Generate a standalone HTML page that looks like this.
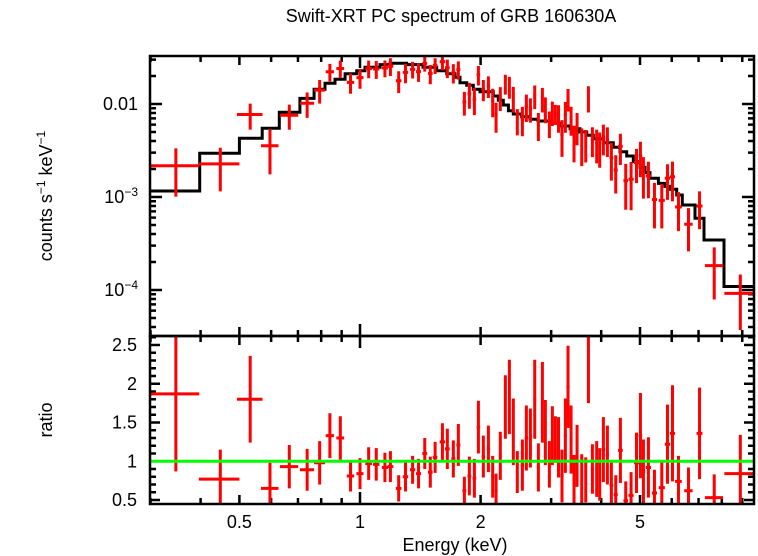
<!DOCTYPE html>
<html><head><meta charset="utf-8"><style>
html,body{margin:0;padding:0;background:#fff}
svg{display:block;font-family:"Liberation Sans",Arial,sans-serif}
</style></head><body>
<svg id="chart" width="758" height="556" viewBox="0 0 758 556" xmlns="http://www.w3.org/2000/svg">
<defs>
<clipPath id="c1"><rect x="150" y="56" width="604" height="280"/></clipPath>
<clipPath id="c2"><rect x="150" y="336" width="604" height="168"/></clipPath>
</defs>
<text x="451" y="22" font-size="18" text-anchor="middle">Swift-XRT PC spectrum of GRB 160630A</text>
<text transform="translate(52,196) rotate(-90)" font-size="18" text-anchor="middle">counts s<tspan font-size="12" dy="-7">−1</tspan><tspan dy="7"> keV</tspan><tspan font-size="12" dy="-7">−1</tspan></text>
<text transform="translate(52,420) rotate(-90)" font-size="18" text-anchor="middle">ratio</text>
<text x="455" y="551" font-size="18" text-anchor="middle">Energy (keV)</text>
<g id="ticks"></g>
<g id="model" clip-path="url(#c1)"></g>
<g id="data1" clip-path="url(#c1)"></g>
<g id="data2" clip-path="url(#c2)"></g>
<line x1="150" x2="754" y1="461.25" y2="461.25" stroke="#00ff00" stroke-width="3"/>
<rect x="150" y="56" width="604" height="280" fill="none" stroke="#000" stroke-width="2.5"/>
<rect x="150" y="336" width="604" height="168" fill="none" stroke="#000" stroke-width="2.5"/>
</svg>
<script>
const modelEdges=[0.3,0.398,0.5,0.57,0.629,0.708,0.768,0.818,0.866,0.918,0.981,1.029,1.122,1.188,1.308,1.436,1.554,1.646,1.726,1.777,1.846,1.918,1.993,2.152,2.214,2.279,2.346,2.414,2.533,2.657,2.782,2.981,3.157,3.345,3.542,3.681,3.823,4.05,4.289,4.457,4.632,4.811,5.0,5.146,5.297,5.556,5.772,5.94,6.174,6.375,6.86,7.224,8.102,9.627];
const modelVals=[1.16e-3,2.95e-3,4.28e-3,5.48e-3,8.14e-3,0.0115,0.0144,0.0167,0.0185,0.0211,0.0228,0.0248,0.0265,0.0274,0.0265,0.0248,0.0228,0.0211,0.0194,0.0169,0.0159,0.0144,0.01357,0.0122,0.0110,0.00976,0.00848,0.00781,0.00731,0.00684,0.00656,0.0062,0.0058,0.00543,0.005,0.00461,0.00424,0.00384,0.00342,0.00307,0.00276,0.0024,0.00209,0.00183,0.00159,0.0014,0.0013,0.00121,0.00105,8.2e-4,5.9e-4,3.45e-4,1.09e-4];
const energies=[0.347,0.448,0.532,0.596,0.666,0.738,0.793,0.841,0.893,0.947,1.0,1.051,1.098,1.154,1.191,1.249,1.299,1.353,1.40,1.451,1.498,1.54,1.606,1.652,1.71,1.76,1.822,1.875,1.93,1.975,2.032,2.092,2.144,2.186,2.24,2.306,2.36,2.414,2.47,2.543,2.602,2.663,2.73,2.788,2.853,2.902,2.97,3.021,3.074,3.13,3.193,3.256,3.306,3.364,3.422,3.482,3.577,3.66,3.717,3.803,3.898,3.966,4.051,4.145,4.241,4.349,4.467,4.606,4.75,4.90,5.012,5.099,5.248,5.433,5.667,5.855,6.026,6.237,6.607,7.04,7.66,8.9];
const energyHalfWidths=[0.05,0.052,0.039,0.03,0.035,0.03,0.025,0.02,0.02,0.02,0.02,0.02,0.02,0.02,0.02,0.02,0.02,0.02,0.02,0.02,0.02,0.02,0.025,0.022,0.02,0.02,0.02,0.02,0.02,0.02,0.02,0.02,0.02,0.02,0.02,0.02,0.02,0.02,0.02,0.025,0.025,0.025,0.025,0.025,0.025,0.025,0.025,0.025,0.025,0.025,0.03,0.03,0.03,0.03,0.03,0.03,0.03,0.03,0.03,0.035,0.035,0.035,0.04,0.04,0.045,0.05,0.06,0.06,0.07,0.07,0.05,0.05,0.08,0.08,0.1,0.09,0.09,0.12,0.16,0.12,0.4,0.78];
const fluxVals=[2.17e-3,2.27e-3,7.7e-3,3.56e-3,7.57e-3,0.0102,0.0141,0.0222,0.0241,0.0171,0.0192,0.0241,0.0238,0.0244,0.0255,0.0178,0.0219,0.0236,0.0223,0.0273,0.0213,0.0260,0.0285,0.0245,0.0217,0.0235,0.0105,0.0129,0.0112,0.0207,0.0144,0.0157,0.0109,0.0076,0.0118,0.0166,0.0155,0.0117,0.0067,0.0069,0.0095,0.0089,0.0123,0.0060,0.0115,0.0090,0.0063,0.0082,0.0079,0.0073,0.0047,0.0077,0.0114,0.00695,0.0041,0.0058,0.0038,0.0038,0.0118,0.00415,0.0038,0.0035,0.0044,0.00415,0.00265,0.00195,0.0035,0.0015,0.00155,0.00235,0.00278,0.00182,0.00168,9.4e-4,9.2e-4,1.59e-3,1.65e-3,7.8e-4,5.1e-4,8.0e-4,1.83e-4,9.2e-5];
const fluxErrs=[1.16e-3,1.12e-3,2.4e-3,1.81e-3,2.28e-3,0.0031,0.0040,0.0048,0.0052,0.0042,0.0046,0.0052,0.0052,0.0050,0.0055,0.0047,0.0052,0.0048,0.0050,0.0050,0.0050,0.0050,0.0055,0.0055,0.0051,0.0052,0.0030,0.0040,0.0036,0.0049,0.0037,0.0041,0.0037,0.0027,0.0034,0.0040,0.0041,0.0036,0.0021,0.0024,0.0031,0.0026,0.0035,0.0020,0.0034,0.0028,0.0020,0.0024,0.0019,0.0024,0.0020,0.0028,0.0031,0.0024,0.00174,0.0022,0.00165,0.00145,0.0037,0.00147,0.0015,0.00144,0.0016,0.00146,0.00115,8.6e-4,1.29e-3,7.7e-4,8.3e-4,9.4e-4,1.15e-3,8.6e-4,7.1e-4,4.8e-4,4.6e-4,6.6e-4,7.5e-4,3.5e-4,2.5e-4,3.5e-4,1.04e-4,5.5e-5];
const ratioVals=[1.87,0.77,1.80,0.65,0.93,0.89,0.98,1.33,1.30,0.81,0.84,0.97,0.96,0.92,0.93,0.65,0.80,0.89,0.84,1.10,0.86,1.05,1.25,1.16,1.03,1.21,0.62,0.81,0.78,1.44,1.06,1.16,0.80,0.62,1.07,1.70,1.83,1.38,0.86,0.95,1.30,1.30,1.80,0.92,1.76,1.37,0.96,1.33,1.28,1.18,0.81,1.33,1.96,1.28,0.76,1.07,0.76,0.76,2.55,0.90,0.90,0.83,1.15,1.08,0.69,0.57,1.14,0.49,0.56,0.98,1.33,0.87,0.92,0.59,0.66,1.22,1.36,0.74,0.62,1.36,0.53,0.84];
const ratioErrs=[1.0,0.38,0.56,0.33,0.28,0.27,0.28,0.29,0.28,0.2,0.2,0.21,0.21,0.19,0.2,0.17,0.19,0.18,0.19,0.2,0.2,0.2,0.24,0.26,0.24,0.27,0.18,0.25,0.25,0.34,0.27,0.3,0.27,0.22,0.31,0.41,0.48,0.43,0.27,0.33,0.42,0.38,0.51,0.31,0.52,0.42,0.3,0.38,0.3,0.39,0.34,0.48,0.53,0.44,0.32,0.4,0.33,0.29,0.8,0.32,0.36,0.34,0.42,0.38,0.3,0.25,0.42,0.25,0.3,0.39,0.55,0.41,0.39,0.3,0.33,0.51,0.62,0.33,0.3,0.59,0.3,0.5];
const xTickLabels=[0.5,1,2,5];
const yTopTickLabels=[["0.01",0.01],["10","-3",1e-3],["10","-4",1e-4]];
const yBotTickLabels=[0.5,1,1.5,2,2.5];

const NS="http://www.w3.org/2000/svg";
const L=150,R=754,T1=56,B1=336,T2=336,B2=504;
const xs=E=>360+400.6*Math.log10(E);
const y1=v=>104-93*(Math.log10(v)+2);
const y2=r=>461.25-77.5*(r-1);
function mk(tag,attrs,parent){const e=document.createElementNS(NS,tag);for(const k in attrs)e.setAttribute(k,attrs[k]);parent.appendChild(e);return e;}

const mg=document.getElementById('model');
let d='';
for(let i=0;i<modelVals.length;i++){
  const xa=xs(modelEdges[i]),xb=xs(modelEdges[i+1]),yy=y1(modelVals[i]);
  d+=(i===0?'M':'L')+xa.toFixed(1)+','+yy.toFixed(1)+'L'+xb.toFixed(1)+','+yy.toFixed(1);
}
const mp=mk('path',{d:d,fill:'none',stroke:'#000','stroke-width':3},mg);



const g1=document.getElementById('data1'),g2=document.getElementById('data2');
for(let i=0;i<energies.length;i++){
  const E=energies[i],hw=energyHalfWidths[i];
  const xa=xs(E-hw),xb=xs(E+hw),xc=xs(E);
  const f=fluxVals[i],fe=fluxErrs[i];
  const lo=f-fe>0?y1(f-fe):B1+10;
  const p1=mk('path',{d:`M${xa},${y1(f)}H${xb}M${xc},${y1(f+fe)}V${lo}`,stroke:'#ff0000','stroke-width':3,fill:'none'},g1);
  
  
  const r=ratioVals[i],re=ratioErrs[i];
  const p2=mk('path',{d:`M${xa},${y2(r)}H${xb}M${xc},${y2(r+re)}V${y2(r-re)}`,stroke:'#ff0000','stroke-width':3,fill:'none'},g2);
  
  
}

const tg=document.getElementById('ticks');
let td='';
const xMinor=[0.3,0.4,0.6,0.7,0.8,0.9,3,4,6,7,8,9];
const xMajor=[0.5,1,2,5];
xMinor.forEach(E=>{const x=xs(E);td+=`M${x},${B1}v-6M${x},${T1}v6M${x},${B2}v-6M${x},${T2}v6M${x},${B1}v6`;});
xMajor.forEach(E=>{const x=xs(E);const l=E===1?12:9;td+=`M${x},${B1}v-${l}M${x},${T1}v${l}M${x},${B2}v-${l}M${x},${T2}v${l}M${x},${B1}v${l}`;});
for(let dec=-5;dec<=-1;dec++){for(let k=1;k<10;k++){const v=k*Math.pow(10,dec);const y=y1(v);if(y<T1||y>B1)continue;const l=k===1?12:6;td+=`M${L},${y}h${l}M${R},${y}h-${l}`;}}
for(let r=0.5;r<=2.61;r+=0.1){const y=y2(r);const maj=Math.abs(r*2-Math.round(r*2))<0.01;const l=maj?10:6;td+=`M${L},${y}h${l}M${R},${y}h-${l}`;}
const tp=mk('path',{d:td,stroke:'#000','stroke-width':2.5,fill:'none'},tg);



xTickLabels.forEach(E=>{const t=mk('text',{x:xs(E),y:528,'font-size':18,'text-anchor':'middle'},tg);t.textContent=String(E);
  
  });
yBotTickLabels.forEach(r=>{const t=mk('text',{x:137,y:y2(r)+6,'font-size':18,'text-anchor':'end'},tg);t.textContent=String(r);
  
  });
yTopTickLabels.forEach(a=>{
  const v=a[a.length-1];const y=y1(v)+6;
  const t=mk('text',{x:138,y:y,'font-size':18,'text-anchor':'end'},tg);
  if(a.length===2){t.textContent=a[0];}
  else{t.textContent=a[0];const s=document.createElementNS(NS,'tspan');s.setAttribute('dy','-7');s.setAttribute('font-size','12');s.textContent=a[1].replace('-','−');t.appendChild(s);}
  
  
});
</script>
</body></html>
